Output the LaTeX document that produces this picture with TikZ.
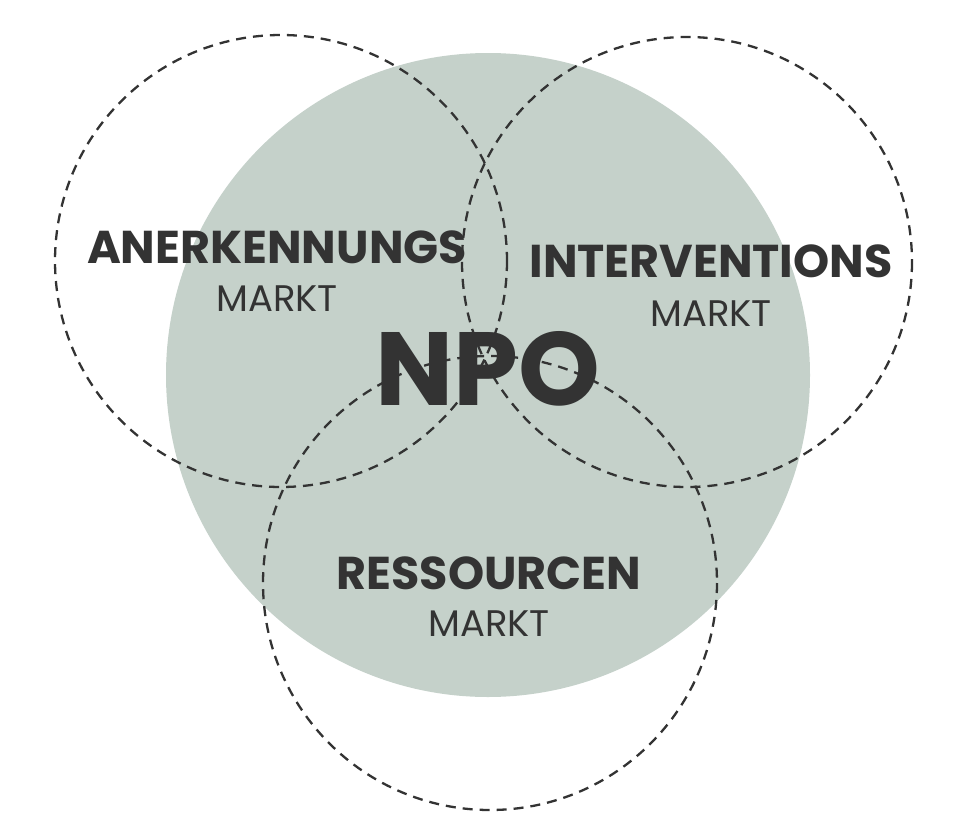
\documentclass[tikz,border=0pt]{standalone}
\usepackage{fontspec}
\setmainfont{Poppins}
\newfontfamily\popbold{Poppins}[UprightFont=* Bold]
\definecolor{npofill}{HTML}{C5D1CA}
\definecolor{txt}{HTML}{333333}
\begin{document}
\begin{tikzpicture}[x=1bp,y=-1bp,
  market/.style={draw=txt,line width=2.3bp,dash pattern=on 10bp off 7bp},
  bold/.style={anchor=base,text=txt,inner sep=0pt,font=\popbold\fontsize{46bp}{46bp}\selectfont},
  sub/.style={anchor=base,text=txt,inner sep=0pt,font=\fontsize{37bp}{37bp}\selectfont}]
\useasboundingbox (0,0) rectangle (960,834);
\fill[npofill] (488,375) circle[radius=322];
\draw[market] (281,261) circle[radius=226];
\draw[market] (687,262) circle[radius=225];
\draw[market] (490,583) circle[radius=227];
\node[bold] (an) at (277,263) {ANERKENNUNGS};
\node[sub] (anm) at (277,311) {MARKT};
\node[bold] (in) at (711,277) {INTERVENTIONS};
\node[sub] (inm) at (711,326) {MARKT};
\node[bold] (re) at (489,589) {RESSOURCEN};
\node[sub] (rem) at (489,636) {MARKT};
\node[anchor=base,text=txt,inner sep=0pt,font=\popbold\fontsize{104bp}{104bp}\selectfont] (npo) at (488,405) {NPO};
\end{tikzpicture}
\end{document}
